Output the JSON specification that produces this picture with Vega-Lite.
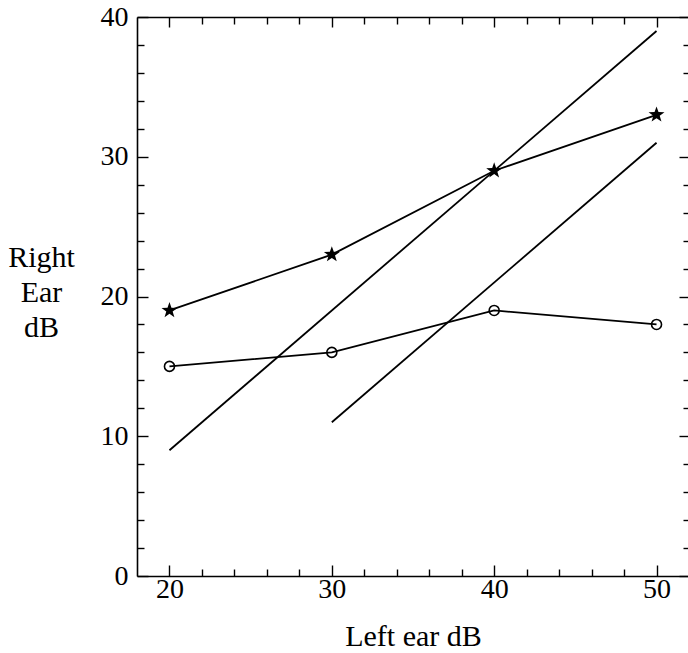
{
  "$schema": "https://vega.github.io/schema/vega-lite/v6.json",
  "width": 552,
  "height": 559,
  "autosize": "none",
  "padding": {"left": 137, "top": 17, "right": 0, "bottom": 77},
  "background": "white",
  "config": {
    "view": {"stroke": null},
    "axis": {
      "domainColor": "black",
      "domainWidth": 1.6,
      "tickColor": "black",
      "tickWidth": 1.4,
      "grid": false,
      "labelFont": "Liberation Serif",
      "labelFontSize": 28,
      "labelColor": "black",
      "titleFont": "Liberation Serif",
      "titleFontSize": 30,
      "titleFontWeight": "normal",
      "titleColor": "black"
    }
  },
  "data": {
    "values": [
      {"series": "star", "x": 20, "y": 19},
      {"series": "star", "x": 30, "y": 23},
      {"series": "star", "x": 40, "y": 29},
      {"series": "star", "x": 50, "y": 33},
      {"series": "circle", "x": 20, "y": 15},
      {"series": "circle", "x": 30, "y": 16},
      {"series": "circle", "x": 40, "y": 19},
      {"series": "circle", "x": 50, "y": 18},
      {"series": "line1", "x": 20, "y": 9},
      {"series": "line1", "x": 50, "y": 39},
      {"series": "line2", "x": 30, "y": 11},
      {"series": "line2", "x": 50, "y": 31}
    ]
  },
  "layer": [
    {
      "mark": {"type": "line", "color": "black", "strokeWidth": 1.8},
      "encoding": {
        "x": {
          "field": "x", "type": "quantitative",
          "scale": {"domain": [18, 52], "nice": false, "zero": false},
          "axis": {
            "orient": "bottom",
            "title": "Left ear dB",
            "titleBaseline": "alphabetic",
            "titleY": 69,
            "values": [20, 22, 24, 26, 28, 30, 32, 34, 36, 38, 40, 42, 44, 46, 48, 50],
            "tickSize": {"condition": {"test": "datum.value % 10 === 0", "value": -11}, "value": -7},
            "labelExpr": "datum.value % 10 === 0 ? datum.label : ''",
            "labelPadding": 10
          }
        },
        "y": {
          "field": "y", "type": "quantitative",
          "scale": {"domain": [0, 40], "nice": false, "zero": false},
          "axis": {
            "orient": "left",
            "title": ["Right", "Ear", "dB"],
            "titleAngle": 0,
            "titleAlign": "center",
            "titleBaseline": "alphabetic",
            "titleX": -96,
            "titleY": 249,
            "titleLineHeight": 35,
            "values": [0, 2, 4, 6, 8, 10, 12, 14, 16, 18, 20, 22, 24, 26, 28, 30, 32, 34, 36, 38, 40],
            "tickSize": {"condition": {"test": "datum.value % 10 === 0", "value": -11}, "value": -7},
            "labelExpr": "datum.value % 10 === 0 ? datum.label : ''",
            "labelPadding": 20
          }
        },
        "detail": {"field": "series"}
      }
    },
    {
      "transform": [{"filter": "datum.series === 'star'"}],
      "mark": {
        "type": "point",
        "shape": "M0,-1L0.235,-0.324L0.951,-0.309L0.38,0.124L0.588,0.809L0,0.4L-0.588,0.809L-0.38,0.124L-0.951,-0.309L-0.235,-0.324Z",
        "filled": true,
        "color": "black",
        "opacity": 1,
        "size": 280
      },
      "encoding": {
        "x": {
          "field": "x", "type": "quantitative",
          "axis": {
            "orient": "top", "title": null, "labels": false,
            "values": [20, 22, 24, 26, 28, 30, 32, 34, 36, 38, 40, 42, 44, 46, 48, 50],
            "tickSize": {"condition": {"test": "datum.value % 10 === 0", "value": -10}, "value": -7}
          }
        },
        "y": {
          "field": "y", "type": "quantitative",
          "axis": {
            "orient": "right", "title": null, "labels": false,
            "values": [0, 2, 4, 6, 8, 10, 12, 14, 16, 18, 20, 22, 24, 26, 28, 30, 32, 34, 36, 38, 40],
            "tickSize": {"condition": {"test": "datum.value % 10 === 0", "value": -10}, "value": -6}
          }
        }
      }
    },
    {
      "transform": [{"filter": "datum.series === 'circle'"}],
      "mark": {
        "type": "point",
        "shape": "circle",
        "filled": false,
        "color": "black",
        "fill": "white",
        "fillOpacity": 0,
        "strokeWidth": 1.6,
        "opacity": 1,
        "size": 100
      },
      "encoding": {
        "x": {"field": "x", "type": "quantitative", "axis": null},
        "y": {"field": "y", "type": "quantitative", "axis": null}
      }
    }
  ]
}
